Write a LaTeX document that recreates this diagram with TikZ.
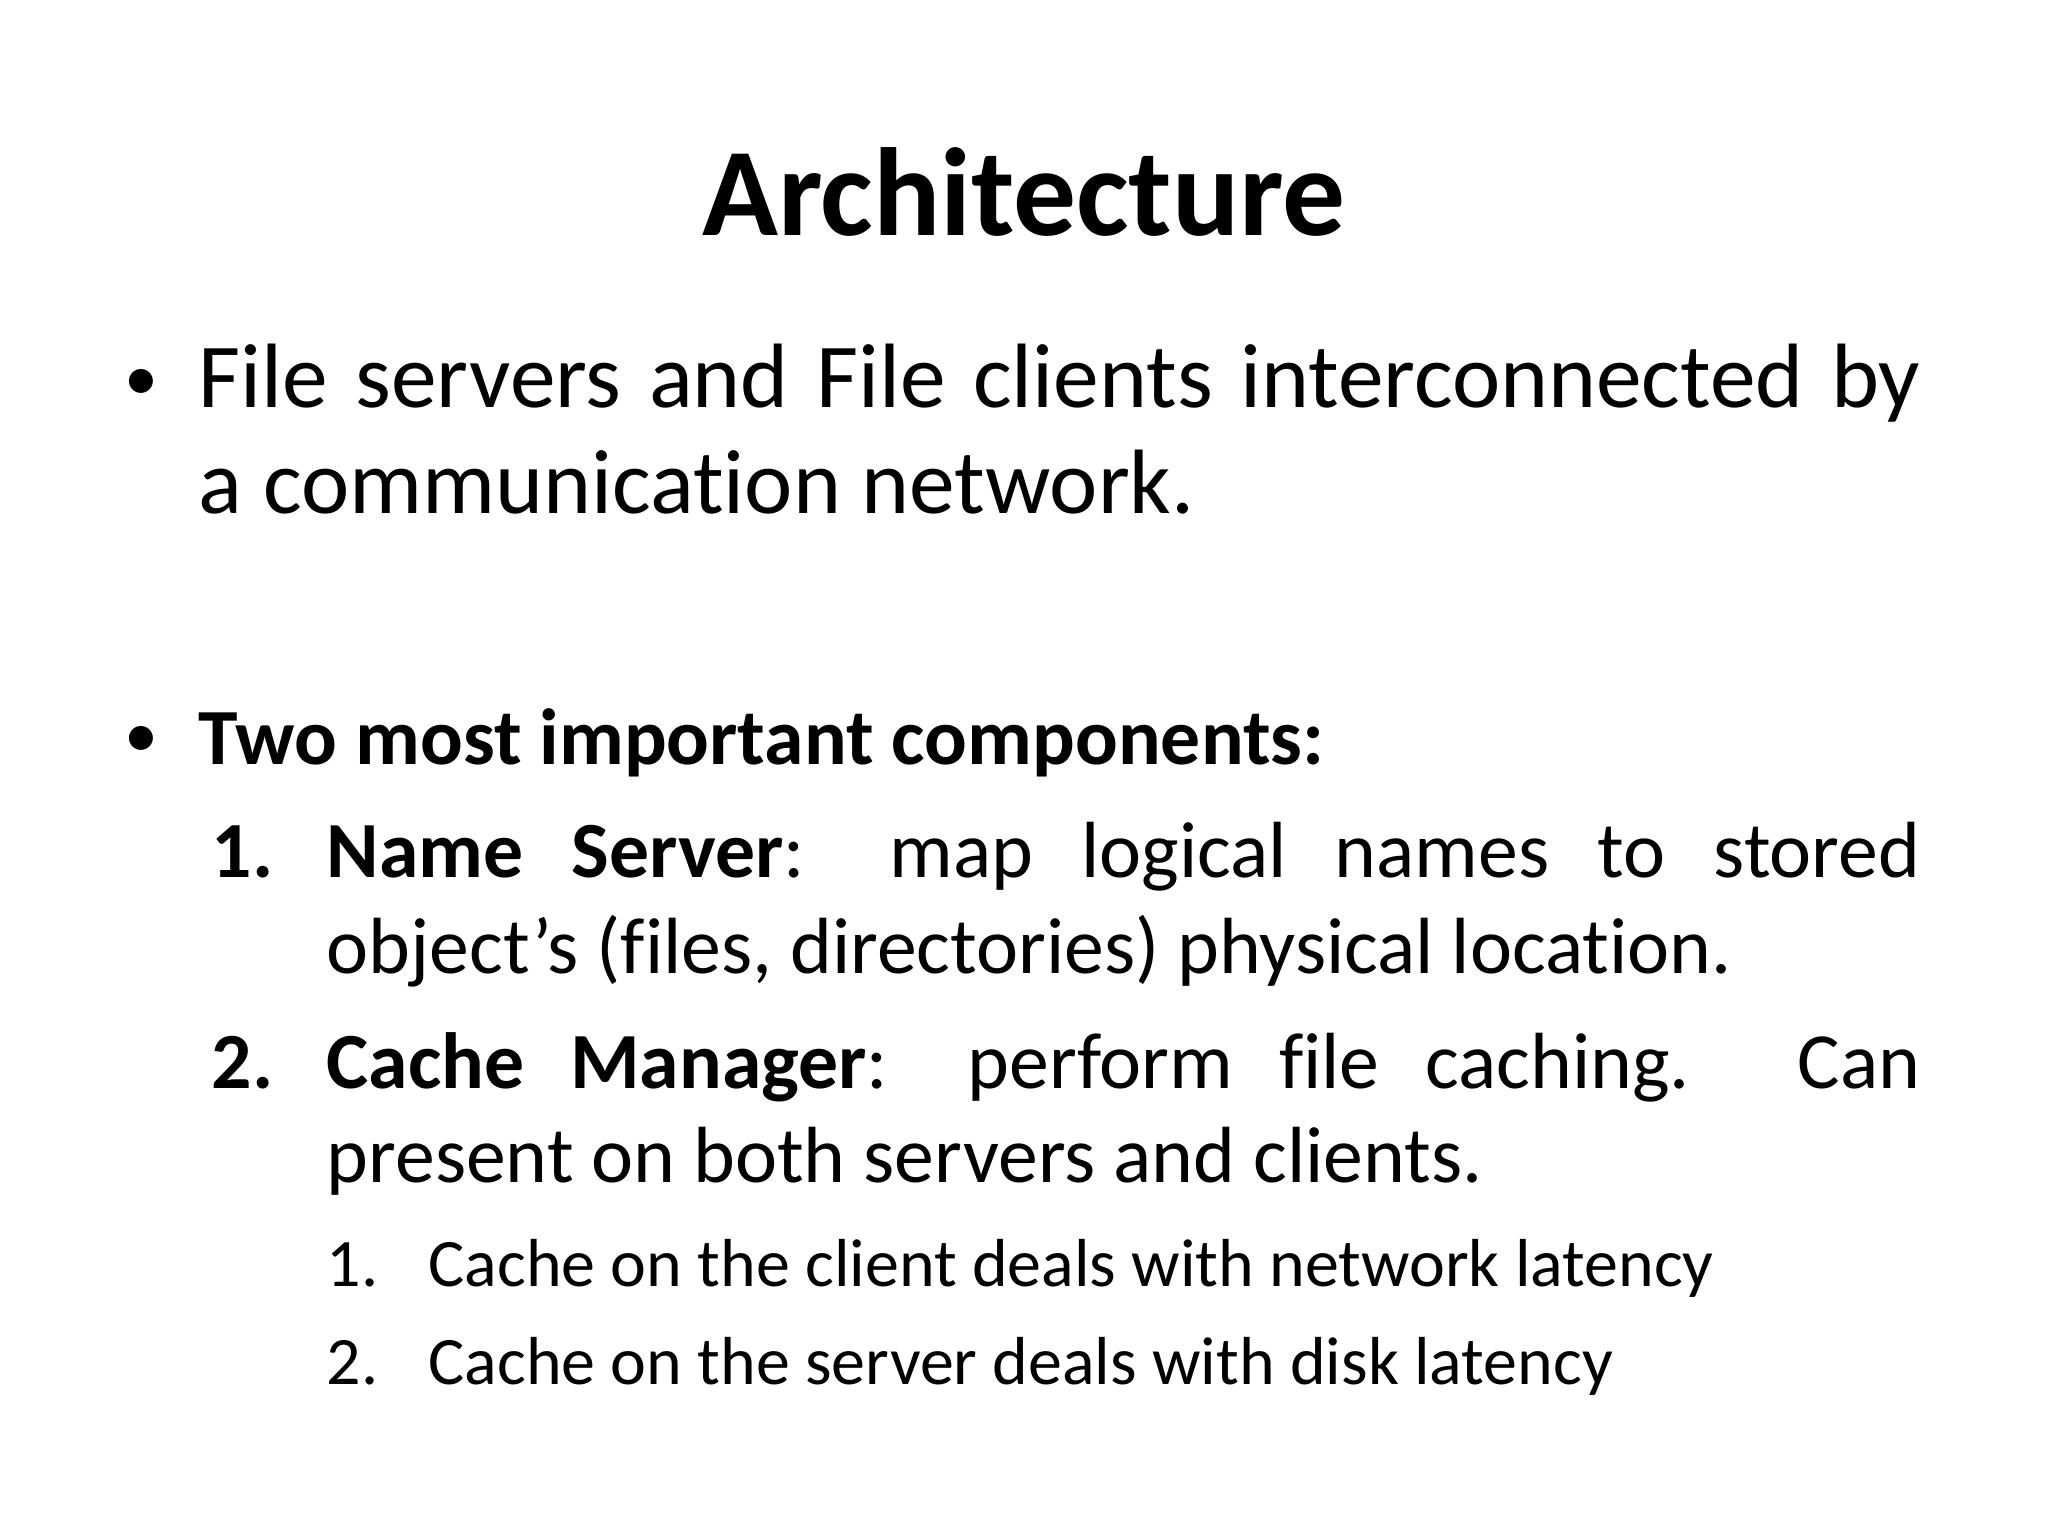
\documentclass[tikz,border=0pt]{standalone}
\usepackage{fontspec}
\setmainfont[Ligatures={NoCommon}]{Carlito}
\begin{document}
\begin{tikzpicture}[x=1pt,y=-1pt,
  txt/.style={anchor=base west,inner sep=0pt,font=\fontsize{70}{84}\selectfont},
  mid/.style={anchor=base west,inner sep=0pt,font=\fontsize{61}{73}\selectfont},
  sub/.style={anchor=base west,inner sep=0pt,font=\fontsize{52}{62}\selectfont},
  bul/.style={anchor=base west,inner sep=0pt,font=\fontsize{52}{62}\selectfont}]
\useasboundingbox[fill=white] (0,0) rectangle (1568,1176);
\node[anchor=base,inner sep=0pt,font=\fontsize{96}{115}\selectfont\bfseries] (title) at (784,180) {Architecture};
\node[bul] (b1) at (95,307) {•};
\node[txt] (l1) at (152,312) {\makebox[1318pt][s]{File servers and File clients interconnected by}};
\node[txt] (l2) at (152,393) {a communication network.};
\node[bul] (b2) at (95,580) {•};
\node[mid] (l3) at (152,585) {\bfseries Two most important components:};
\node[mid] (n1) at (162,672) {\bfseries 1.};
\node[mid] (l4) at (250,672) {\makebox[1220pt][s]{\textbf{Name Server}: map logical names to stored}};
\node[mid] (l5) at (250,745) {object’s (files, directories) physical location.};
\node[mid] (n2) at (162,833) {\bfseries 2.};
\node[mid] (l6) at (250,833) {\makebox[1220pt][s]{\textbf{Cache Manager}: perform file caching. Can}};
\node[mid] (l7) at (250,905) {present on both servers and clients.};
\node[sub] (m1) at (250,985) {1.};
\node[sub] (s1) at (328,985) {Cache on the client deals with network latency};
\node[sub] (m2) at (250,1060) {2.};
\node[sub] (s2) at (328,1060) {Cache on the server deals with disk latency};
\end{tikzpicture}
\end{document}
